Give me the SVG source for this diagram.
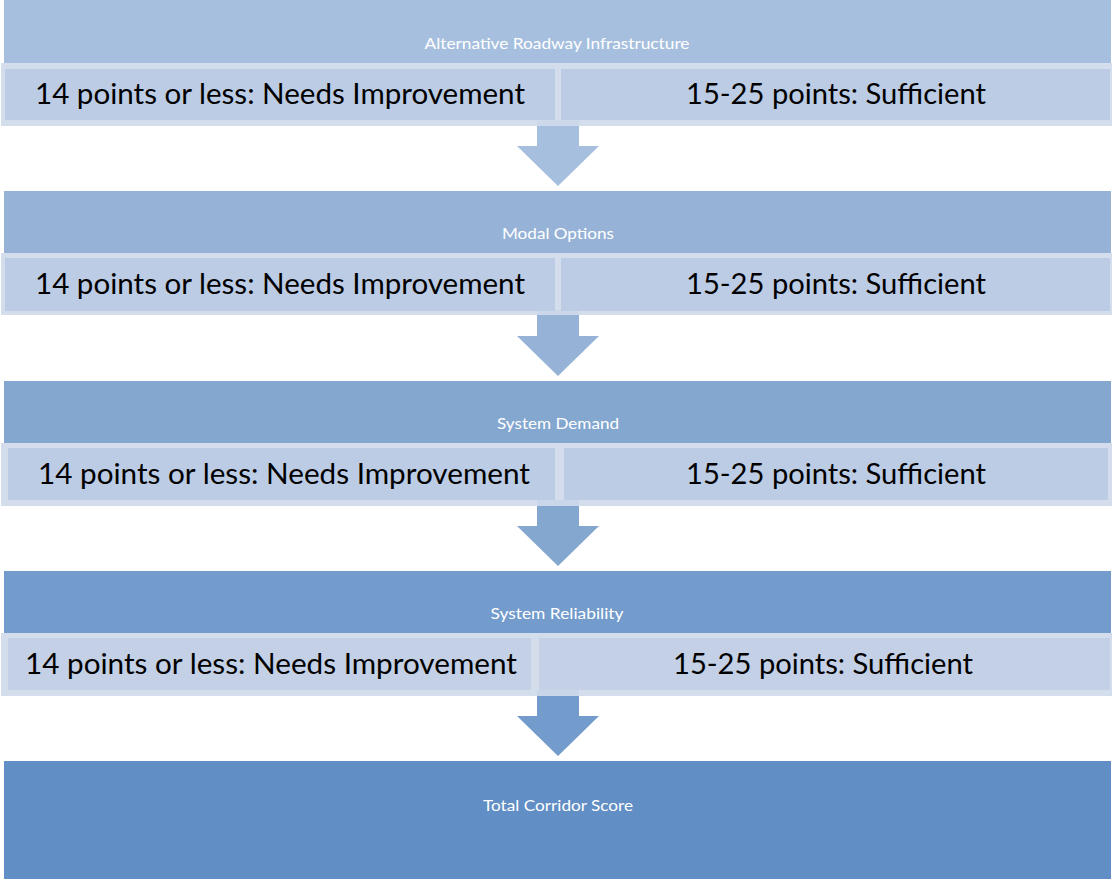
<svg xmlns="http://www.w3.org/2000/svg" width="1112" height="882" viewBox="0 0 1112 882">
<style>
.hdr{font-family:Lato,"Open Sans","Liberation Sans",sans-serif;font-size:15px;fill:#ffffff;text-anchor:middle}
.sub{font-family:Lato,"Open Sans","Liberation Sans",sans-serif;font-size:28px;fill:#000000;text-anchor:middle}
.band{fill:#D0DAEA}
.inner1{fill:#BCCCE4}
.inner4{fill:#C3D0E5}
</style>
<rect width="1112" height="882" fill="#ffffff"/>
<g id="connectors">
<polygon points="537,120 579,120 579,146 599,146 558,186 517,146 537,146" fill="#A7BFDE"/>
<polygon points="537,310 579,310 579,336 599,336 558,376 517,336 537,336" fill="#96B3D7"/>
<polygon points="537,500 579,500 579,526 599,526 558,566 517,526 537,526" fill="#84A7D0"/>
<polygon points="537,690 579,690 579,716 599,716 558,756 517,716 537,716" fill="#739BCB"/>
</g>
<g id="block1">
<rect x="4" y="0" width="1107" height="63" fill="#A7BFDE"/>
<rect x="1" y="63" width="1111" height="63" class="band" opacity="0.92"/>
<rect x="5" y="69" width="550" height="51" class="inner1"/>
<rect x="561" y="69" width="549" height="51" class="inner1"/>
<text x="557" y="49" class="hdr" textLength="265" lengthAdjust="spacingAndGlyphs">Alternative Roadway Infrastructure</text>
<text x="280" y="104" class="sub" textLength="490" lengthAdjust="spacingAndGlyphs">14 points or less: Needs Improvement</text>
<text x="836" y="104" class="sub" textLength="300" lengthAdjust="spacingAndGlyphs">15-25 points: Sufficient</text>
</g>
<g id="block2">
<rect x="4" y="191" width="1107" height="62" fill="#96B3D7"/>
<rect x="1" y="253" width="1111" height="62" class="band" opacity="0.92"/>
<rect x="5" y="258" width="550" height="53" class="inner1"/>
<rect x="561" y="258" width="549" height="53" class="inner1"/>
<text x="558" y="239" class="hdr" textLength="112" lengthAdjust="spacingAndGlyphs">Modal Options</text>
<text x="280" y="294" class="sub" textLength="490" lengthAdjust="spacingAndGlyphs">14 points or less: Needs Improvement</text>
<text x="836" y="294" class="sub" textLength="300" lengthAdjust="spacingAndGlyphs">15-25 points: Sufficient</text>
</g>
<g id="block3">
<rect x="4" y="381" width="1107" height="62" fill="#84A7D0"/>
<rect x="1" y="443" width="1111" height="63" class="band" opacity="0.92"/>
<rect x="8" y="448" width="547" height="52" class="inner1"/>
<rect x="564" y="448" width="544" height="52" class="inner1"/>
<text x="558" y="429" class="hdr" textLength="122" lengthAdjust="spacingAndGlyphs">System Demand</text>
<text x="284" y="484" class="sub" textLength="492" lengthAdjust="spacingAndGlyphs">14 points or less: Needs Improvement</text>
<text x="836" y="484" class="sub" textLength="300" lengthAdjust="spacingAndGlyphs">15-25 points: Sufficient</text>
</g>
<g id="block4">
<rect x="4" y="571" width="1107" height="62" fill="#739BCB"/>
<rect x="1" y="633" width="1111" height="63" class="band" opacity="0.92"/>
<rect x="8" y="638" width="523" height="52" class="inner4"/>
<rect x="539" y="638" width="571" height="52" class="inner4"/>
<text x="557" y="619" class="hdr" textLength="133" lengthAdjust="spacingAndGlyphs">System Reliability</text>
<text x="271" y="674" class="sub" textLength="492" lengthAdjust="spacingAndGlyphs">14 points or less: Needs Improvement</text>
<text x="823" y="674" class="sub" textLength="300" lengthAdjust="spacingAndGlyphs">15-25 points: Sufficient</text>
</g>
<g id="block5">
<rect x="4" y="761" width="1107" height="118" fill="#618EC4"/>
<text x="558" y="811" class="hdr" textLength="150" lengthAdjust="spacingAndGlyphs">Total Corridor Score</text>
</g>
</svg>
